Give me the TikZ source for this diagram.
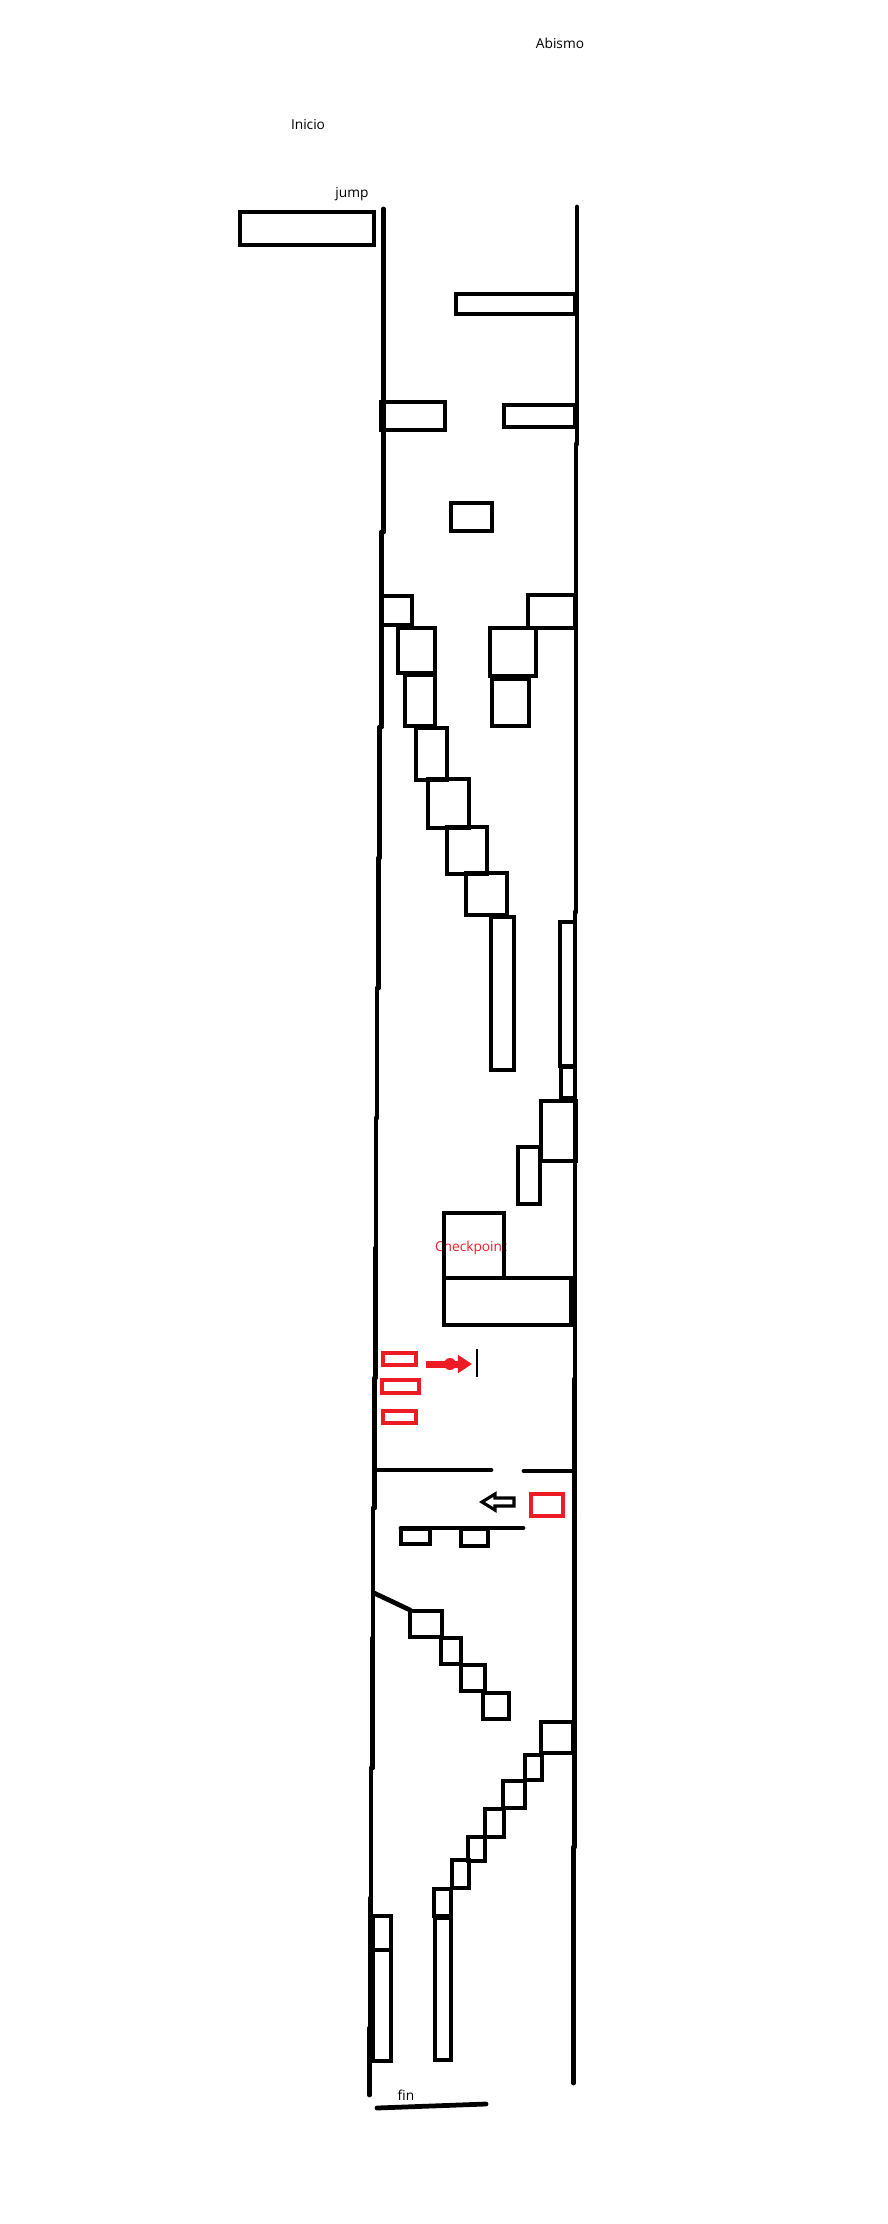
\documentclass[tikz,border=0pt]{standalone}
\usepackage{fontspec}
\setmainfont{Open Sans}
\usetikzlibrary{arrows.meta}

\definecolor{paintred}{RGB}{237,28,36}

\begin{document}
\begin{tikzpicture}[
    x=0.01cm, y=-0.01cm,
    wall/.style={line width=1.35pt, line cap=round},
    block/.style={draw, line width=1.35pt},
    redblock/.style={draw=paintred, line width=1.35pt},
    mapnote/.style={anchor=base, inner sep=0pt, font=\fontsize{3.9pt}{4.5pt}\selectfont}
]
    \useasboundingbox (0,0) rectangle (888,2224);

    % texts
    \node[mapnote] (abismo) at (560,48) {Abismo};
    \node[mapnote] (inicio) at (308,129) {Inicio};
    \node[mapnote] (jump) at (352,197) {jump};
    \node[mapnote, text=paintred] (checkpoint) at (471,1251) {Checkpoint};
    \node[mapnote] (fin) at (406,2100) {fin};

    % left wall
    \foreach \wx/\ya/\yb in {383.5/209/532, 381.5/532/727, 379.5/727/858, 378.5/858/988,
        377/988/1118, 376/1118/1248, 375.5/1248/1378, 374.5/1378/1508, 373/1508/1638,
        372.5/1638/1768, 371/1768/1898, 370.3/1898/2028, 369.5/2028/2095}
        \draw[wall] (\wx,\ya) -- (\wx,\yb);
    % right wall
    \foreach \wx/\ya/\yb in {577/207/444, 576/444/912, 575/912/1379, 574.5/1379/1847, 573.5/1847/2083}
        \draw[wall] (\wx,\ya) -- (\wx,\yb);

    % start platform
    \draw[block] (240,212) rectangle (374,245);

    % upper ledges
    \foreach \xa/\ya/\xb/\yb in {456/294/575/314, 381/402/445/430, 504/405/575/427, 451/503/492/531}
        \draw[block] (\xa,\ya) rectangle (\xb,\yb);

    % left staircase
    \foreach \xa/\ya/\xb/\yb in {381/596/412/625, 398/628/435/673, 405/675/435/726, 416/728/447/780,
        428/779/469/828, 447/827/487/874, 466/873/507/915, 491/917/514/1070}
        \draw[block] (\xa,\ya) rectangle (\xb,\yb);

    % right blocks
    \foreach \xa/\ya/\xb/\yb in {528/595/575/628, 490/628/536/676, 492/679/529/726,
        560/922/575/1066, 561/1067/575/1098, 541/1101/576/1161, 518/1147/540/1204}
        \draw[block] (\xa,\ya) rectangle (\xb,\yb);

    % checkpoint blocks
    \draw[block] (444,1213) rectangle (504,1278);
    \draw[block] (444,1278) rectangle (571,1325);

    % red platforms and arrow
    \foreach \xa/\ya/\xb/\yb in {383/1353/416/1365, 382/1380/419/1393, 383/1411/416/1423, 531/1494/563/1516}
        \draw[redblock] (\xa,\ya) rectangle (\xb,\yb);
    \coordinate (redtail) at (426,1364);
    \coordinate (redhead) at (472,1364);
    \draw[paintred, line width=2pt, -{Triangle[length=4pt, width=5pt]}] (redtail) -- (redhead);
    \fill[paintred] (450,1364) ellipse (6 and 6);
    \coordinate (marktop) at (477,1349);
    \coordinate (markbot) at (477,1377);
    \draw[line width=0.3pt] (marktop) -- (markbot);

    % floor with gap
    \draw[wall] (377,1470) -- (491,1470);
    \draw[wall] (524,1471) -- (573,1471);

    % black arrow
    \draw[line width=0.9pt, fill=white] (482,1502) -- (495,1494) -- (495,1498) -- (514,1498)
        -- (514,1506) -- (495,1506) -- (495,1510) -- cycle;

    % shelf
    \draw[wall] (401,1528) -- (523,1528);
    \draw[block] (401,1529) rectangle (430,1544);
    \draw[block] (461,1529) rectangle (488,1546);

    % ramp and stairs down
    \draw[wall] (374,1593) -- (410,1610);
    \foreach \xa/\ya/\xb/\yb in {410/1611/442/1637, 441/1638/461/1664, 461/1665/485/1691, 483/1693/509/1719}
        \draw[block] (\xa,\ya) rectangle (\xb,\yb);

    % stairs up
    \foreach \xa/\ya/\xb/\yb in {541/1722/573/1753, 525/1755/542/1780, 503/1781/525/1808, 485/1809/504/1837,
        468/1837/485/1861, 452/1860/469/1888, 434/1889/451/1916, 435/1918/451/2060}
        \draw[block] (\xa,\ya) rectangle (\xb,\yb);

    % bottom left pillar
    \draw[block] (373,1916) rectangle (391,1950);
    \draw[block] (373,1950) rectangle (391,2061);

    % end line
    \draw[wall] (377,2108) -- (486,2104);
\end{tikzpicture}
\end{document}
